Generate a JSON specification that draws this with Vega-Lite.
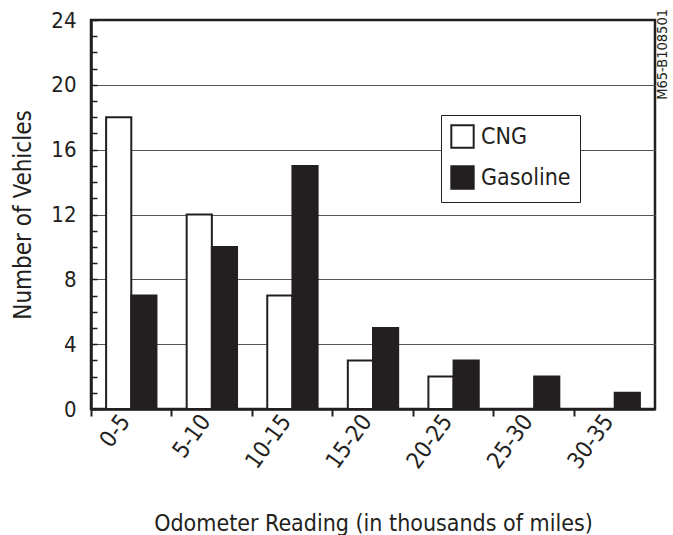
{
  "$schema": "https://vega.github.io/schema/vega-lite/v6.json",
  "width": 564,
  "height": 389,
  "autosize": {"type": "none"},
  "padding": {"left": 91, "top": 20, "right": 18, "bottom": 126},
  "background": "white",
  "title": {"text": "M65-B108501", "orient": "right", "anchor": "start", "angle": -90, "align": "right", "baseline": "bottom", "fontSize": 14.5, "fontWeight": "normal", "color": "#231f20", "offset": 0, "dx": 0},
  "config": {
    "font": "DejaVu Sans Condensed, sans-serif",
    "view": {"stroke": "#231f20", "strokeWidth": 2.5}
  },
  "data": {"values": [
    {"range": "0-5", "fuel": "CNG", "count": 18},
    {"range": "0-5", "fuel": "Gasoline", "count": 7},
    {"range": "5-10", "fuel": "CNG", "count": 12},
    {"range": "5-10", "fuel": "Gasoline", "count": 10},
    {"range": "10-15", "fuel": "CNG", "count": 7},
    {"range": "10-15", "fuel": "Gasoline", "count": 15},
    {"range": "15-20", "fuel": "CNG", "count": 3},
    {"range": "15-20", "fuel": "Gasoline", "count": 5},
    {"range": "20-25", "fuel": "CNG", "count": 2},
    {"range": "20-25", "fuel": "Gasoline", "count": 3},
    {"range": "25-30", "fuel": "CNG", "count": 0},
    {"range": "25-30", "fuel": "Gasoline", "count": 2},
    {"range": "30-35", "fuel": "CNG", "count": 0},
    {"range": "30-35", "fuel": "Gasoline", "count": 1}
  ]},
  "mark": {"type": "bar", "stroke": "#231f20", "strokeWidth": 2},
  "encoding": {
    "x": {
      "field": "range", "type": "nominal", "sort": null,
      "scale": {"paddingInner": 0, "paddingOuter": 0},
      "axis": {
        "title": "Odometer Reading (in thousands of miles)",
        "titleFontSize": 23, "titleFontWeight": "normal", "titleColor": "#231f20",
        "titleY": 121, "titleBaseline": "alphabetic",
        "bandPosition": 0,
        "labelAngle": -54, "labelAlign": "right", "labelBaseline": "middle",
        "labelOffset": -6, "labelPadding": 1,
        "labelFontSize": 23, "labelColor": "#231f20",
        "tickColor": "#231f20", "tickWidth": 2, "tickSize": 7,
        "domainColor": "#231f20", "domainWidth": 2.5,
        "grid": false
      }
    },
    "xOffset": {"field": "fuel", "scale": {"paddingOuter": 0.6, "paddingInner": 0}},
    "y": {
      "field": "count", "type": "quantitative",
      "scale": {"domain": [0, 24], "nice": false},
      "axis": {
        "title": "Number of Vehicles",
        "titleFontSize": 24, "titleFontWeight": "normal", "titleColor": "#231f20",
        "titlePadding": 15,
        "values": [0,1,2,3,4,5,6,7,8,9,10,11,12,13,14,15,16,17,18,19,20,21,22,23,24],
        "labelExpr": "datum.value % 4 === 0 ? datum.label : ''",
        "labelOverlap": false,
        "labelFontSize": 22, "labelColor": "#231f20",
        "labelPadding": 21,
        "tickColor": "#231f20", "tickWidth": 1.5, "tickSize": -6,
        "domainColor": "#231f20", "domainWidth": 2.5,
        "grid": true,
        "gridColor": "#555555", "gridWidth": 1,
        "gridOpacity": {"condition": {"test": "datum.value % 4 === 0 && datum.value > 0 && datum.value < 24", "value": 1}, "value": 0}
      }
    },
    "fill": {
      "field": "fuel", "type": "nominal",
      "scale": {"domain": ["CNG", "Gasoline"], "range": ["white", "#231f20"]},
      "legend": {
        "orient": "none", "legendX": 350, "legendY": 95,
        "title": null,
        "symbolType": "square", "symbolSize": 500,
        "symbolStrokeColor": "#231f20", "symbolStrokeWidth": 2,
        "labelFontSize": 23, "labelColor": "#231f20", "labelOffset": 6,
        "strokeColor": "#231f20", "fillColor": "white",
        "padding": 9, "rowPadding": 10
      }
    }
  }
}
